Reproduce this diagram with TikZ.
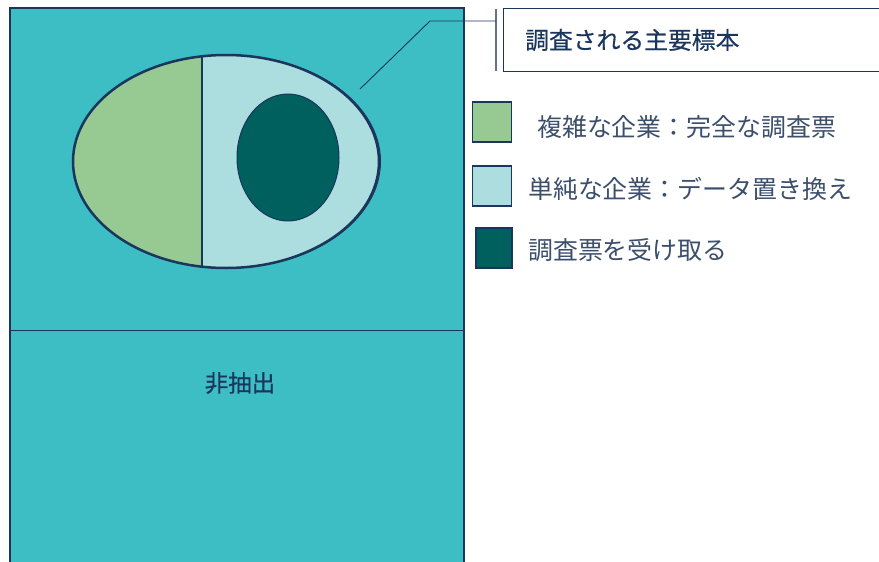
\documentclass[tikz,border=0pt]{standalone}
\usepackage{fontspec}
\newfontfamily\cjk{Noto Sans CJK JP}
\newfontfamily\cjkm[FakeBold=0.4]{Noto Sans CJK JP}
\definecolor{tealbg}{HTML}{3CBEC4}
\definecolor{navy}{HTML}{1B365D}
\definecolor{cgreen}{HTML}{97C992}
\definecolor{clight}{HTML}{ADDEDF}
\definecolor{cdark}{HTML}{00605E}
\definecolor{legtxt}{HTML}{3B4E6B}
\tikzset{
  legbox/.style={draw=navy, line width=1.2pt, minimum width=39pt, minimum height=40pt, inner sep=0pt},
  legtext/.style={anchor=west, inner sep=0pt, text=legtxt, font=\cjk\fontsize{24.9}{28}\selectfont},
  outl/.style={draw=navy, line width=2.5pt}
}
\begin{document}
\begin{tikzpicture}[x=1pt,y=-1pt]
\useasboundingbox (0,0) rectangle (879,562);
\clip (0,0) rectangle (879,562);
% population frame
\fill[tealbg] (10,8) rectangle (464,580);
\draw[navy, line width=1.2pt] (10,580) -- (10,8) -- (464,8) -- (464,580);
\draw[navy, line width=1pt] (10,330) -- (464,330);
\node[text=navy, font=\cjkm\fontsize{23.5}{28}\selectfont, inner sep=0pt] (nonsel) at (240,383) {非抽出};
% sample ellipse
\begin{scope}
  \clip (0,0) rectangle (202,300);
  \fill[cgreen] (226,161.5) ellipse [x radius=153pt, y radius=106.5pt];
\end{scope}
\begin{scope}
  \clip (202,0) rectangle (400,300);
  \fill[clight] (226,161.5) ellipse [x radius=153pt, y radius=106.5pt];
  \draw[navy, line width=1pt] (227.5,161.5) ellipse [x radius=153pt, y radius=106.5pt];
\end{scope}
\draw[outl] (226,161.5) ellipse [x radius=153pt, y radius=106.5pt];
\draw[outl, line width=2.8pt] (202,56.3) -- (202,266.7);
\fill[cdark, draw=navy, line width=1pt] (288,157.5) ellipse [x radius=51pt, y radius=63.5pt];
% callout
\node[draw=navy, line width=1.2pt, fill=white, minimum width=400pt, minimum height=63pt, anchor=north west, inner sep=0pt] (callout) at (503,8) {};
\node[anchor=west, inner sep=0pt, text=navy, font=\cjkm\fontsize{23.8}{28}\selectfont] (ctitle) at (525,40) {調査される主要標本};
\coordinate (cbar1) at (496,9);
\coordinate (cbar2) at (496,71);
\draw[navy!70, line width=1.2pt] (cbar1) -- (cbar2);
\coordinate (ctip) at (360,89);
\coordinate (celbow) at (430,21);
\coordinate (cend) at (496,21);
\draw[navy, line width=0.9pt] (ctip) -- (celbow) -- (cend);
% legend
\node[legbox, fill=cgreen] (lb1) at (492,122) {};
\node[legbox, fill=clight] (lb2) at (492,186) {};
\node[legbox, fill=cdark, minimum width=36pt] (lb3) at (494,248) {};
\node[legtext] (lt1) at (537,127) {複雑な企業：完全な調査票};
\node[legtext] (lt2) at (528,189) {単純な企業：データ置き換え};
\node[legtext] (lt3) at (528,250) {調査票を受け取る};
\end{tikzpicture}
\end{document}
